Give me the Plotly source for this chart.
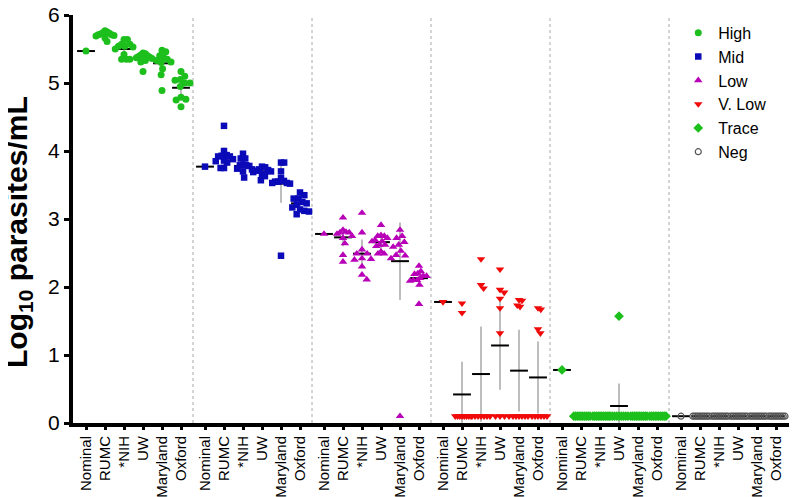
import plotly.graph_objects as go

# ---------------- data ----------------
groups = ["High", "Mid", "Low", "V. Low", "Trace", "Neg"]
sites = ["Nominal", "RUMC", "*NIH", "UW", "Maryland", "Oxford"]

high = [
    [5.47],
    [5.77, 5.75, 5.74, 5.73, 5.72, 5.71, 5.71, 5.70, 5.69, 5.66, 5.61],
    [5.64, 5.64, 5.57, 5.57, 5.54, 5.54, 5.53, 5.50, 5.42, 5.35, 5.35, 5.35],
    [5.44, 5.43, 5.41, 5.40, 5.39, 5.38, 5.37, 5.36, 5.34, 5.33, 5.31, 5.17],
    [5.48, 5.46, 5.40, 5.38, 5.35, 5.33, 5.31, 5.30, 5.21, 5.12, 4.89],
    [5.17, 5.10, 5.05, 5.04, 5.00, 5.00, 4.95, 4.79, 4.76, 4.75, 4.65],
]
high_mean = [5.47, 5.71, 5.50, 5.36, 5.29, 4.93]
high_sd = [0.0, 0.04, 0.09, 0.06, 0.16, 0.12]

mid = [
    [3.77],
    [4.37, 4.00, 3.94, 3.93, 3.92, 3.92, 3.88, 3.86, 3.85, 3.83, 3.75, 3.75],
    [3.96, 3.89, 3.89, 3.80, 3.79, 3.79, 3.78, 3.74, 3.73, 3.70, 3.61],
    [3.77, 3.76, 3.73, 3.72, 3.71, 3.70, 3.69, 3.66, 3.63, 3.57],
    [3.83, 3.83, 3.70, 3.60, 3.56, 3.55, 3.55, 3.53, 3.53, 3.52, 2.46],
    [3.39, 3.35, 3.30, 3.30, 3.25, 3.23, 3.21, 3.17, 3.14, 3.12, 3.11, 3.07],
]
mid_mean = [3.77, 3.91, 3.78, 3.70, 3.52, 3.23]
mid_sd = [0.0, 0.14, 0.10, 0.06, 0.28, 0.10]

low = [
    [2.78],
    [3.02, 2.84, 2.81, 2.80, 2.80, 2.78, 2.75, 2.72, 2.64, 2.47, 2.37],
    [3.09, 2.80, 2.55, 2.49, 2.49, 2.42, 2.41, 2.40, 2.30, 2.18, 2.11],
    [2.91, 2.76, 2.75, 2.75, 2.72, 2.69, 2.67, 2.67, 2.62, 2.62, 2.60, 2.52, 2.49, 2.49],
    [2.84, 2.75, 2.72, 2.66, 2.62, 2.59, 2.53, 2.47, 2.46, 2.42, 0.10],
    [2.31, 2.23, 2.20, 2.19, 2.16, 2.16, 2.13, 2.10, 2.10, 2.09, 2.03, 1.75],
]
low_mean = [2.78, 2.73, 2.49, 2.66, 2.38, 2.13]
low_sd = [0.0, 0.13, 0.21, 0.10, 0.57, 0.10]

vlow = [
    [1.78],
    [1.76, 1.62, 0.10, 0.10, 0.10, 0.10, 0.10, 0.10, 0.10, 0.10],
    [2.41, 2.03, 1.98, 0.10, 0.10, 0.10, 0.10, 0.10, 0.10, 0.10],
    [2.26, 1.96, 1.92, 1.83, 1.69, 1.32, 0.10, 0.10, 0.10, 0.10],
    [1.81, 1.80, 1.73, 1.71, 0.10, 0.10, 0.10, 0.10, 0.10, 0.10],
    [1.69, 1.67, 1.38, 1.32, 0.10, 0.10, 0.10, 0.10, 0.10, 0.10],
]
vlow_mean = [1.78, 0.42, 0.72, 1.14, 0.77, 0.67]
vlow_sd = [0.0, 0.48, 0.70, 0.65, 0.60, 0.53]

trace = [
    [0.78],
    [0.10, 0.10, 0.10, 0.10, 0.10, 0.10, 0.10, 0.10, 0.10, 0.10],
    [0.10, 0.10, 0.10, 0.10, 0.10, 0.10, 0.10, 0.10, 0.10, 0.10],
    [1.57, 0.10, 0.10, 0.10, 0.10, 0.10, 0.10, 0.10, 0.10, 0.10],
    [0.10, 0.10, 0.10, 0.10, 0.10, 0.10, 0.10, 0.10, 0.10, 0.10],
    [0.10, 0.10, 0.10, 0.10, 0.10, 0.10, 0.10, 0.10, 0.10, 0.10],
]
trace_mean = [0.78, 0.10, 0.10, 0.25, 0.10, 0.10]
trace_sd = [0.0, 0.0, 0.0, 0.33, 0.0, 0.0]

neg = [
    [0.10],
    [0.10, 0.10, 0.10, 0.10, 0.10, 0.10, 0.10, 0.10, 0.10, 0.10],
    [0.10, 0.10, 0.10, 0.10, 0.10, 0.10, 0.10, 0.10, 0.10, 0.10],
    [0.10, 0.10, 0.10, 0.10, 0.10, 0.10, 0.10, 0.10, 0.10, 0.10],
    [0.10, 0.10, 0.10, 0.10, 0.10, 0.10, 0.10, 0.10, 0.10, 0.10],
    [0.10, 0.10, 0.10, 0.10, 0.10, 0.10, 0.10, 0.10, 0.10, 0.10],
]
neg_mean = [0.10, 0.10, 0.10, 0.10, 0.10, 0.10]
neg_sd = [0.0, 0.0, 0.0, 0.0, 0.0, 0.0]

y_ticks = [0, 1, 2, 3, 4, 5, 6]

# ---------------- styling / layout constants ----------------
PAGE_OFF = 8               # default body margin of the html page
W, H = 797 - PAGE_OFF, 497 - PAGE_OFF
ML, MR, MT, MB = 73 - PAGE_OFF, 0, 15 - PAGE_OFF, 74
PX_PER_CAT = 19.0          # px between neighbouring sites
GROUP_PERIOD = 119.0 / PX_PER_CAT
FIRST_CAT_PX = 86.0 - PAGE_OFF
PX_PER_Y = (H - MT - MB) / 6.0
FONT = "Arial, Liberation Sans, sans-serif"

all_data = [high, mid, low, vlow, trace, neg]
all_mean = [high_mean, mid_mean, low_mean, vlow_mean, trace_mean, neg_mean]
all_sd = [high_sd, mid_sd, low_sd, vlow_sd, trace_sd, neg_sd]

markers = [
    dict(symbol="circle", size=7, color="#1DBF1D"),
    dict(symbol="square", size=6.5, color="#0A0AB8"),
    dict(symbol="triangle-up", size=7.5, color="#B800B8"),
    dict(symbol="triangle-down", size=7.5, color="#F00A0A"),
    dict(symbol="diamond", size=7.5, color="#1DBF1D"),
    dict(symbol="circle-open", size=6, color="#555555", line=dict(width=1.2)),
]


def cat_x(g, i):
    return g * GROUP_PERIOD + i


def swarm(vals, d=6.6, limit=9.0):
    """beeswarm offsets (in category units) so markers do not overlap"""
    n = len(vals)
    ypx = [v * PX_PER_Y for v in vals]
    order = sorted(range(n), key=lambda k: (-vals[k], k))
    cands = [0.0]
    for s in range(1, 160):
        cands += [s * 0.5, -s * 0.5]
    placed, offs = [], [0.0] * n
    for k in order:
        for c in cands:
            if all((c - px) ** 2 + (ypx[k] - py) ** 2 >= d * d for px, py in placed):
                offs[k] = c
                break
        placed.append((offs[k], ypx[k]))
    m = max(abs(o) for o in offs)
    if m > limit:
        offs = [o * limit / m for o in offs]
    return [o / PX_PER_CAT for o in offs]


fig = go.Figure()

# error bars (gray) and mean lines (black)
ex, ey, mx, my = [], [], [], []
for g in range(6):
    for i in range(6):
        c = cat_x(g, i)
        m, s = all_mean[g][i], all_sd[g][i]
        if s > 0:
            ex += [c, c, None]
            ey += [max(0.0, m - s), m + s, None]
        mx += [c - 0.47, c + 0.47, None]
        my += [m, m, None]

fig.add_trace(go.Scatter(x=ex, y=ey, mode="lines", line=dict(color="#BDBDBD", width=2),
                         showlegend=False, hoverinfo="skip"))
fig.add_trace(go.Scatter(x=mx, y=my, mode="lines", line=dict(color="black", width=2),
                         showlegend=False, hoverinfo="skip"))

for g in range(6):
    xs, ys = [], []
    for i in range(6):
        vals = all_data[g][i]
        offs = swarm(vals)
        xs += [cat_x(g, i) + o for o in offs]
        ys += vals
    fig.add_trace(go.Scatter(x=xs, y=ys, mode="markers", name=groups[g],
                             marker=markers[g], cliponaxis=False))

# dotted group separators
for g in range(5):
    xsep = (cat_x(g, 5) + cat_x(g + 1, 0)) / 2
    fig.add_shape(type="line", xref="x", yref="paper", x0=xsep, x1=xsep, y0=0, y1=1,
                  line=dict(color="#A8A8A8", width=1, dash="dot"), layer="below")

tickvals = [cat_x(g, i) for g in range(6) for i in range(6)]
ticktext = [sites[i] for g in range(6) for i in range(6)]

x_lo = (ML - FIRST_CAT_PX) / PX_PER_CAT
x_hi = (W - MR - FIRST_CAT_PX) / PX_PER_CAT

fig.update_layout(
    width=W, height=H,
    margin=dict(l=ML, r=MR, t=MT, b=MB, pad=0, autoexpand=False),
    plot_bgcolor="white", paper_bgcolor="white",
    font=dict(family=FONT, color="black"),
    showlegend=True,
    legend=dict(x=0.836, y=0.998, xanchor="left", yanchor="top",
                font=dict(size=16, family=FONT, color="black"),
                bgcolor="rgba(0,0,0,0)", borderwidth=0),
    xaxis=dict(range=[x_lo, x_hi], tickmode="array", tickvals=tickvals, ticktext=ticktext,
               tickangle=-90, tickfont=dict(size=15, family=FONT, color="black"),
               ticks="outside", ticklen=3, tickwidth=3, tickcolor="black",
               ticklabeloverflow="allow",
               showline=True, linewidth=4, linecolor="black", automargin=False,
               showgrid=False, zeroline=False, fixedrange=True),
    yaxis=dict(range=[0, 6], tickmode="array", tickvals=y_ticks,
               tickfont=dict(size=21, family=FONT, color="black"),
               ticks="outside", ticklen=5, tickwidth=3, tickcolor="black",
               ticklabeloverflow="allow",
               showline=True, linewidth=4, linecolor="black", automargin=False,
               showgrid=False, zeroline=False, fixedrange=True),
)

fig.add_annotation(text="<b>Log<sub>10</sub> parasites/mL</b>", xref="paper", yref="paper",
                   x=(18 - 73) / (797 - 73), y=1 - (232 - 15) / (423 - 15),
                   xanchor="center", yanchor="middle", textangle=-90, showarrow=False,
                   font=dict(size=30, family=FONT, color="black"))

fig.write_html("out.html")
